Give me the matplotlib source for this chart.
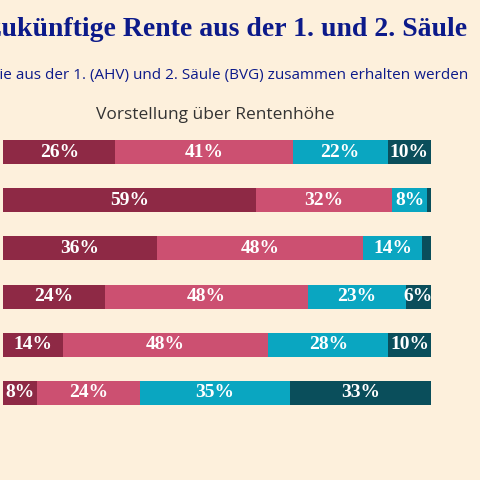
import matplotlib
matplotlib.use("Agg")
import matplotlib.pyplot as plt
import numpy as np

rows = ["r1", "r2", "r3", "r4", "r5", "r6"]
s1 = [26, 59, 36, 24, 14, 8]
s2 = [41, 32, 48, 48, 48, 24]
s3 = [22, 8, 14, 23, 28, 35]
s4 = [10, 1, 2, 6, 10, 33]
colors = ["#8e2945", "#cc5071", "#0aa6c1", "#0a4e5b"]
bg = "#fdf0dc"

fig = plt.figure(figsize=(4.8, 4.8), dpi=100, facecolor=bg)
ax = fig.add_axes([3/480, 1 - 417/480, 428/480, (417-128)/480])
ax.set_facecolor(bg)
data = np.array([s1, s2, s3, s4], dtype=float)
tot = data.sum(axis=0)
y = np.arange(len(rows))
left = np.zeros(len(rows))
for k in range(4):
    w = data[k] / tot * 100
    ax.barh(y, w, left=left, height=0.5, color=colors[k])
    for i in range(len(rows)):
        if data[k][i] >= 5:
            ax.text(left[i] + w[i] / 2, y[i], f"{int(data[k][i])}%", ha="center", va="center",
                    color="white", fontsize=14, fontweight="bold", family="Liberation Serif")
    left += w
ax.set_xlim(0, 100)
ax.set_ylim(len(rows) - 0.5, -0.5)
ax.axis("off")

fig.text(-58/480, 1 - 30/480, "Die zukünftige Rente aus der 1. und 2. Säule", ha="left", va="center",
         fontsize=20, fontweight="bold", family="Liberation Serif", color="#0c1a8a")
fig.text(-10/480, 1 - 76/480, "die aus der 1. (AHV) und 2. Säule (BVG) zusammen erhalten werden", ha="left",
         va="center", fontsize=11, family="Open Sans", color="#0c1a8a")
fig.text(215/480, 1 - 115/480, "Vorstellung über Rentenhöhe", ha="center", va="center",
         fontsize=12.5, family="Open Sans", color="#333333")

fig.savefig("out.png", dpi=100, facecolor=bg)
